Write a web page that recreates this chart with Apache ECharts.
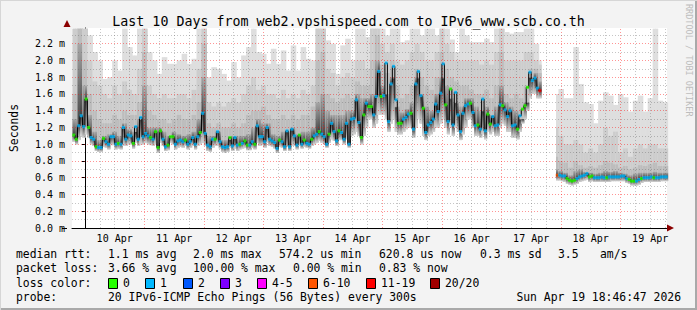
<!DOCTYPE html>
<html><head><meta charset="utf-8">
<script src="https://cdn.jsdelivr.net/npm/echarts@6/dist/echarts.min.js"></script>
<style>html,body{margin:0;padding:0;background:#f3f3f3}#c{width:697px;height:310px}</style>
</head><body><div id="c"></div>
<script>
// ---------------- data ----------------
const titleText = 'Last 10 Days from web2.vpshispeed.com to IPv6_www.scb.co.th';
const dayLabels = ['10 Apr','11 Apr','12 Apr','13 Apr','14 Apr','15 Apr','16 Apr','17 Apr','18 Apr','19 Apr'];
const labelHours = [12,36,60,84,108,132,156,180,204,228]; // noon of each day, hours since 10 Apr 00:00
const FIRST_HOUR = -5;          // first hourly sample (9 Apr 19:00)
const X_MIN = -5.2167, X_MAX = 234.7833; // 9 Apr 18:47 .. 19 Apr 18:47
const Y_MAX = 2.388;

// hourly median rtt (ms)
const med = [
1.11,1.06,1.22,1.34,1.21,1.54,1.20,1.08,1.06,0.97,0.96,0.96,1.07,1.03,1.00,1.09,1.09,1.00,1.01,1.00,1.20,1.06,1.11,1.10,1.01,1.21,1.06,1.32,1.09,1.13,1.10,1.08,1.06,1.15,0.96,1.16,1.06,0.97,0.99,
1.09,1.09,1.00,1.04,1.05,1.03,1.05,1.00,1.03,1.08,1.00,1.09,1.14,1.37,1.13,0.99,0.97,1.06,1.06,1.15,1.03,0.97,0.96,0.97,1.08,0.98,1.08,0.99,1.00,1.01,1.04,0.99,0.99,1.03,1.00,1.22,1.09,1.09,1.03,1.20,
1.06,1.04,1.02,0.95,1.05,1.03,0.97,1.16,0.97,1.18,1.10,0.99,1.11,1.00,1.05,1.01,1.00,1.06,1.10,1.12,1.15,1.12,1.09,1.00,1.12,1.25,1.15,1.04,1.16,1.14,1.06,1.25,1.00,1.30,1.31,1.53,1.26,1.08,1.35,1.49,
1.45,1.45,1.35,1.57,1.87,1.57,1.58,1.97,1.27,1.72,1.93,1.53,1.25,1.25,1.30,1.32,1.36,1.37,1.18,1.72,1.87,1.58,1.43,1.14,1.23,1.26,1.30,1.48,1.39,1.61,1.96,1.47,1.27,1.66,1.23,1.62,1.35,1.15,1.37,1.46,
1.48,1.49,1.38,1.22,1.23,1.18,1.54,1.16,1.36,1.24,1.33,1.22,1.23,1.47,1.46,1.41,1.33,1.40,1.22,1.23,1.18,1.34,1.42,1.46,1.68,1.86,1.76,1.79,1.67,1.64,
null,null,null,null,null,null,
0.63,0.63,0.62,0.62,0.59,0.57,0.56,0.57,0.59,0.61,0.62,0.63,0.65,0.61,0.62,0.60,0.60,0.60,0.61,0.60,0.60,0.61,0.61,0.61,0.61,0.61,0.62,0.62,0.59,0.58,0.56,0.56,0.56,0.58,0.59,0.60,0.60,0.60,0.61,0.60,0.60,0.60,0.61,0.61,0.61
];
// hourly loss class (index into lossColors)
const loss = [
0,0,1,1,1,0,0,1,1,0,1,1,0,1,1,1,1,1,0,1,1,1,1,1,0,1,1,1,1,1,1,0,1,0,0,0,1,1,0,
0,0,1,1,1,1,0,1,1,1,1,1,0,1,1,1,1,1,0,1,1,1,1,1,0,1,1,1,0,1,0,0,1,1,0,1,1,1,1,1,
1,1,1,1,0,1,1,1,1,1,1,1,0,1,0,1,1,0,1,1,0,1,1,1,0,1,1,1,0,1,1,1,1,1,1,1,1,0,0,1,
0,0,1,1,1,0,1,1,1,1,1,1,0,0,1,1,1,0,1,1,1,1,0,1,1,1,1,1,1,1,1,0,1,0,1,1,1,1,1,1,
1,0,1,1,0,1,1,1,0,0,1,1,1,1,0,1,1,1,1,1,0,1,0,0,0,1,1,1,1,6,
null,null,null,null,null,null,
5,1,1,1,0,0,0,0,1,1,1,1,1,0,0,1,1,1,1,1,0,1,1,1,1,1,1,1,1,0,0,0,1,1,0,1,1,1,1,0,1,1,1,1,1
];
// hourly bottom of the smoke (fastest pings)
const lo = [
1.03,1.00,1.05,1.10,1.08,1.12,1.08,1.00,0.98,0.92,0.91,0.91,0.97,0.96,0.94,0.99,0.99,0.94,0.95,0.94,0.98,0.98,1.00,1.00,0.95,1.02,0.98,1.00,1.00,1.02,1.00,0.99,0.98,1.00,0.90,1.02,0.98,0.92,0.93,
1.02,1.00,0.94,0.96,0.97,0.96,0.98,0.94,0.96,0.98,0.94,0.98,1.00,1.02,0.98,0.92,0.91,0.96,0.98,0.98,0.95,0.91,0.90,0.91,0.96,0.92,0.95,0.92,0.94,0.95,0.96,0.93,0.93,0.96,0.94,1.02,0.98,0.99,0.96,1.02,
0.98,0.97,0.95,0.90,0.97,0.96,0.92,0.98,0.92,0.98,0.98,0.94,0.98,0.95,0.97,0.96,0.95,0.98,1.00,1.02,1.04,1.02,1.00,0.96,1.02,1.06,1.04,0.98,1.05,1.05,1.00,1.06,0.96,1.10,1.12,1.15,1.10,1.00,1.10,1.20,
1.30,1.30,1.20,1.25,1.35,1.35,1.35,1.30,1.15,1.25,1.30,1.15,1.12,1.12,1.15,1.18,1.20,1.20,1.08,1.20,1.30,1.25,1.10,1.05,1.10,1.12,1.15,1.20,1.20,1.25,1.30,1.20,1.12,1.20,1.10,1.20,1.15,1.05,1.12,1.20,
1.30,1.30,1.20,1.10,1.10,1.08,1.12,1.06,1.15,1.12,1.15,1.10,1.10,1.20,1.25,1.22,1.15,1.15,1.08,1.08,1.06,1.15,1.25,1.30,1.40,1.55,1.60,1.60,1.55,1.55,
null,null,null,null,null,null,
0.57,0.57,0.56,0.55,0.53,0.52,0.51,0.52,0.53,0.55,0.56,0.57,0.58,0.55,0.56,0.55,0.55,0.55,0.55,0.55,0.55,0.55,0.56,0.56,0.56,0.56,0.56,0.56,0.54,0.53,0.51,0.51,0.51,0.52,0.54,0.55,0.55,0.55,0.55,0.55,0.55,0.55,0.56,0.56,0.56
];
// 2-hourly smoke envelopes (top of each grey band)
const smokeMax = [
2.38,2.38,2.38,2.3,2.1,2.0,1.78,1.8,2.0,1.88,2.38,2.16,2.06,2.38,2.38,2.1,2.0,1.84,2.04,1.96,
1.96,2.0,2.08,1.96,2.02,2.38,2.38,1.8,1.92,1.9,1.84,1.76,1.98,1.8,2.06,2.16,2.38,2.1,2.08,1.96,
2.14,1.96,2.12,1.88,2.18,1.88,2.16,2.02,2.0,2.38,2.38,2.24,2.2,1.84,2.18,2.26,2.0,2.38,2.38,2.28,
2.38,2.38,2.38,2.3,2.38,2.38,2.22,2.24,2.38,2.38,2.3,2.38,2.38,2.3,2.38,2.38,2.25,2.1,2.38,2.3,
2.22,2.22,2.22,2.26,2.22,2.38,2.38,2.34,2.32,2.34,2.34,2.38,2.38,2.2,2.0,null,null,1.6,1.66,1.55,
1.55,2.16,1.72,1.5,1.48,1.25,1.52,1.62,1.58,1.47,1.6,1.56,1.39,1.52,1.58,1.39,1.55,2.38,1.52,1.5
];
const smokeHi = [
2.38,2.38,2.38,2.0,1.75,1.7,1.6,1.55,1.7,1.6,1.75,1.65,1.6,1.9,2.38,1.7,1.6,1.55,1.6,1.55,
1.55,1.6,1.6,1.55,1.65,1.9,2.38,1.5,1.45,1.5,1.45,1.5,1.55,1.5,1.6,1.7,1.8,1.65,1.7,1.6,
1.6,1.55,1.65,1.55,1.6,1.55,1.65,1.6,1.7,2.38,2.38,1.9,1.85,1.7,1.8,1.85,1.8,2.0,2.0,1.9,
2.38,2.38,2.2,2.1,2.2,2.0,1.95,2.0,2.1,2.2,2.1,2.0,2.0,2.1,2.38,2.2,2.1,2.0,2.0,2.0,
2.0,2.0,1.95,2.0,1.95,2.1,2.38,2.0,2.0,2.0,2.0,2.1,2.1,2.0,1.95,null,null,1.2,1.1,1.0,
1.0,1.05,1.0,0.9,0.95,0.9,1.0,1.2,1.1,1.15,0.9,0.95,0.85,0.95,1.0,0.95,1.0,1.0,0.95,0.95
];
const smokeMid = [
1.6,2.38,2.0,1.6,1.4,1.3,1.25,1.25,1.35,1.3,1.4,1.35,1.35,1.5,2.1,1.4,1.35,1.3,1.3,1.25,
1.3,1.35,1.3,1.3,1.35,1.5,2.2,1.25,1.2,1.25,1.2,1.2,1.25,1.2,1.25,1.35,1.4,1.4,1.45,1.35,
1.3,1.3,1.35,1.3,1.35,1.3,1.35,1.35,1.45,2.0,2.1,1.6,1.55,1.5,1.55,1.6,1.55,1.75,1.7,1.7,
2.0,2.3,1.95,1.85,2.0,1.7,1.55,1.6,1.7,1.9,1.8,1.7,1.65,1.8,2.1,1.9,1.8,1.75,1.7,1.7,
1.65,1.6,1.6,1.65,1.55,1.7,2.1,1.6,1.55,1.6,1.55,1.7,1.9,1.9,1.85,null,null,0.85,0.8,0.78,
0.72,0.8,0.75,0.72,0.74,0.72,0.75,0.8,0.78,0.76,0.72,0.74,0.7,0.72,0.75,0.74,0.76,0.78,0.74,0.74
];
const smokeCore = [
1.3,2.2,1.7,1.35,1.15,1.05,1.1,1.12,1.15,1.1,1.25,1.18,1.15,1.3,1.7,1.2,1.2,1.2,1.15,1.1,
1.15,1.12,1.1,1.12,1.15,1.3,1.8,1.1,1.1,1.15,1.05,1.05,1.1,1.1,1.1,1.12,1.2,1.3,1.25,1.25,
1.12,1.1,1.15,1.15,1.2,1.12,1.15,1.15,1.2,1.5,1.6,1.4,1.35,1.35,1.35,1.4,1.4,1.6,1.55,1.55,
1.6,2.0,1.7,1.6,1.8,1.45,1.38,1.42,1.5,1.8,1.6,1.45,1.4,1.6,1.8,1.7,1.55,1.5,1.45,1.55,
1.55,1.45,1.4,1.45,1.35,1.45,1.7,1.5,1.45,1.4,1.3,1.5,1.8,1.85,1.75,null,null,0.7,0.68,0.66,
0.63,0.68,0.7,0.67,0.66,0.65,0.66,0.68,0.67,0.68,0.66,0.65,0.63,0.65,0.66,0.66,0.66,0.67,0.66,0.66
];
const lossLabels = ['0','1','2','3','4-5','6-10','11-19','20/20'];
const lossColors = ['#26ff00','#00b8ff','#0059ff','#7e00ff','#ff00ff','#ff5500','#ff0000','#a10000'];
const rttStats = ['1.1 ms avg','2.0 ms max','574.2 us min','620.8 us now','0.3 ms sd','3.5','am/s'];
const lossStats = ['3.66 % avg','100.00 % max','0.00 % min','0.83 % now'];
const probeText = '20 IPv6-ICMP Echo Pings (56 Bytes) every 300s';
const stampText = 'Sun Apr 19 18:46:47 2026';

// ---------------- build ----------------
const MONO = '"DejaVu Sans Mono", monospace';
const bandItems = [], medLine = [], dots = [];
for (let i = 0; i < med.length; i++) {
  const h = FIRST_HOUR + i;
  const j = Math.floor(i / 2);
  medLine.push([h + 0.5, med[i]]);
  if (med[i] == null) continue;
  bandItems.push([h, h + 1, lo[i], smokeMax[j], smokeHi[j], smokeMid[j], smokeCore[j], med[i]]);
  dots.push([h + 0.5, med[i], loss[i]]);
}
const gridLines = [];
for (let t = 6; t < X_MAX; t += 6) {
  const major = t % 24 === 0;
  gridLines.push({xAxis: t, lineStyle: {color: major ? 'rgba(255,0,0,0.42)' : 'rgba(90,90,90,0.35)', type: [1, 2], width: 1}});
}
for (let k = 1; k / 10 < Y_MAX; k++) {
  const major = k % 2 === 0;
  gridLines.push({yAxis: k / 10, lineStyle: {color: major ? 'rgba(255,0,0,0.42)' : 'rgba(90,90,90,0.35)', type: [1, 2], width: 1}});
}

const bandColors = ['#dedede', '#cdcdcd', '#bdbdbd'];
function renderBand(params, api) {
  const t0 = api.value(0), t1 = api.value(1), low = api.value(2), mv = api.value(7);
  const pb = api.coord([t0, low]);
  const pe = api.coord([t1, low]);
  const x = pb[0], w = pe[0] - pb[0] + 0.6;
  const children = [];
  for (let k = 0; k < 4; k++) {
    const top = api.value(3 + k);
    if (top == null || isNaN(top) || top <= low) continue;
    const y = api.coord([t0, top])[1];
    const hgt = pb[1] - y;
    let fill;
    if (k < 3) fill = bandColors[k];
    else {
      let s = (top - mv) / (top - low);
      s = Math.max(0.05, Math.min(0.95, s));
      fill = {type: 'linear', x: 0, y: 0, x2: 0, y2: 1, global: false,
        colorStops: [{offset: 0, color: '#a6a6a6'}, {offset: s, color: '#444444'}, {offset: 1, color: '#d6d6d6'}]};
    }
    children.push({type: 'rect', shape: {x: x, y: y, width: w, height: hgt}, style: {fill: fill}});
  }
  return {type: 'group', children: children};
}

function txt(x, y, s, align, font, color) {
  return {type: 'text', x: x, y: y, silent: true,
    style: {text: s, x: 0, y: 0, font: font || ('11.4px ' + MONO), fill: color || '#000',
      align: align || 'left', verticalAlign: 'middle', textAlign: align || 'left', textVerticalAlign: 'middle'}};
}
const graphics = [];
// frame
graphics.push({type: 'line', silent: true, shape: {x1: 0, y1: 309, x2: 697, y2: 309}, style: {stroke: '#a9a9a9', lineWidth: 2}});
graphics.push({type: 'line', silent: true, shape: {x1: 696, y1: 0, x2: 696, y2: 310}, style: {stroke: '#a9a9a9', lineWidth: 2}});
graphics.push({type: 'line', silent: true, shape: {x1: 0, y1: 0.5, x2: 697, y2: 0.5}, style: {stroke: '#d6d6d6', lineWidth: 1}});
graphics.push({type: 'line', silent: true, shape: {x1: 0.5, y1: 0, x2: 0.5, y2: 310}, style: {stroke: '#d6d6d6', lineWidth: 1}});
// axis arrows and axis stub
graphics.push({type: 'polygon', silent: true, z: 10, shape: {points: [[63.5, 27], [70.5, 27], [67, 20]]}, style: {fill: '#8b0000'}});
graphics.push({type: 'polygon', silent: true, z: 10, shape: {points: [[667, 224.5], [667, 231.5], [674, 228]]}, style: {fill: '#8b0000'}});
graphics.push({type: 'line', silent: true, shape: {x1: 62, y1: 228.5, x2: 67, y2: 228.5}, style: {stroke: '#000', lineWidth: 1}});
// watermark
graphics.push({type: 'text', silent: true, x: 689, y: 4, rotation: -Math.PI / 2,
  style: {text: 'RRDTOOL / TOBI OETIKER', x: 0, y: 0, font: '8.5px ' + MONO, fill: '#bdbdbd', align: 'left', verticalAlign: 'middle', textAlign: 'left', textVerticalAlign: 'middle'}});
// legend rows
graphics.push(txt(16, 254, 'median rtt:'));
[108, 193, 279, 379, 480, 558, 600].forEach((x, i) => graphics.push(txt(x, 254, rttStats[i])));
graphics.push(txt(16, 268, 'packet loss:'));
[108, 193, 293, 379].forEach((x, i) => graphics.push(txt(x, 268, lossStats[i])));
graphics.push(txt(16, 283, 'loss color:'));
const boxX = [108, 145, 183, 220, 257, 308, 366, 430];
lossLabels.forEach((lab, i) => {
  graphics.push({type: 'rect', silent: true, shape: {x: boxX[i] + 0.5, y: 278.5, width: 9, height: 10},
    style: {fill: lossColors[i], stroke: '#000', lineWidth: 1}});
  graphics.push(txt(boxX[i] + 15, 283, lab));
});
graphics.push(txt(16, 297, 'probe:'));
graphics.push(txt(108, 297, probeText));
graphics.push(txt(681, 297, stampText, 'right'));

const chart = echarts.init(document.getElementById('c'), null, {renderer: 'svg', width: 697, height: 310});
chart.setOption({
  animation: false,
  backgroundColor: '#f3f3f3',
  title: {text: titleText, left: 'center', top: 10,
    textStyle: {fontFamily: MONO, fontSize: 13.3, fontWeight: 'normal', color: '#000'}},
  grid: {left: 67, top: 28, width: 600, height: 200, show: true, backgroundColor: '#ffffff', borderWidth: 0},
  xAxis: {type: 'value', min: X_MIN, max: X_MAX,
    axisLine: {show: true, onZero: false, lineStyle: {color: '#000', width: 1}},
    axisTick: {show: false}, splitLine: {show: false},
    axisLabel: {customValues: labelHours, margin: 5, fontFamily: MONO, fontSize: 10, color: '#000',
      formatter: v => dayLabels[Math.round((v - labelHours[0]) / 24)]}},
  yAxis: {type: 'value', min: 0, max: Y_MAX, interval: 0.2,
    axisLine: {show: true, lineStyle: {color: '#000', width: 1}},
    axisTick: {show: true, length: 3, lineStyle: {color: '#000'}},
    splitLine: {show: false},
    axisLabel: {showMaxLabel: false, margin: 7, fontFamily: MONO, fontSize: 10, color: '#000',
      formatter: v => v.toFixed(1) + ' m'},
    name: 'Seconds', nameLocation: 'middle', nameRotate: 90, nameGap: 53,
    nameTextStyle: {fontFamily: MONO, fontSize: 11.4, color: '#000'}},
  graphic: graphics,
  series: [
    {type: 'custom', name: 'smoke', z: 2, silent: true, renderItem: renderBand, data: bandItems,
      encode: {x: [0, 1], y: [2, 3]},
      markLine: {silent: true, z: 3, symbol: ['none', 'none'], animation: false, label: {show: false},
        emphasis: {disabled: true}, data: gridLines}},
    {type: 'line', name: 'median', z: 4, silent: true, data: medLine, step: 'middle', showSymbol: false,
      connectNulls: false, lineStyle: {color: '#000', width: 1}},
    {type: 'scatter', name: 'loss', z: 5, silent: true, data: dots, symbol: 'rect', symbolSize: [3, 3],
      itemStyle: {color: p => lossColors[p.value[2]]}}
  ]
});
</script></body></html>
